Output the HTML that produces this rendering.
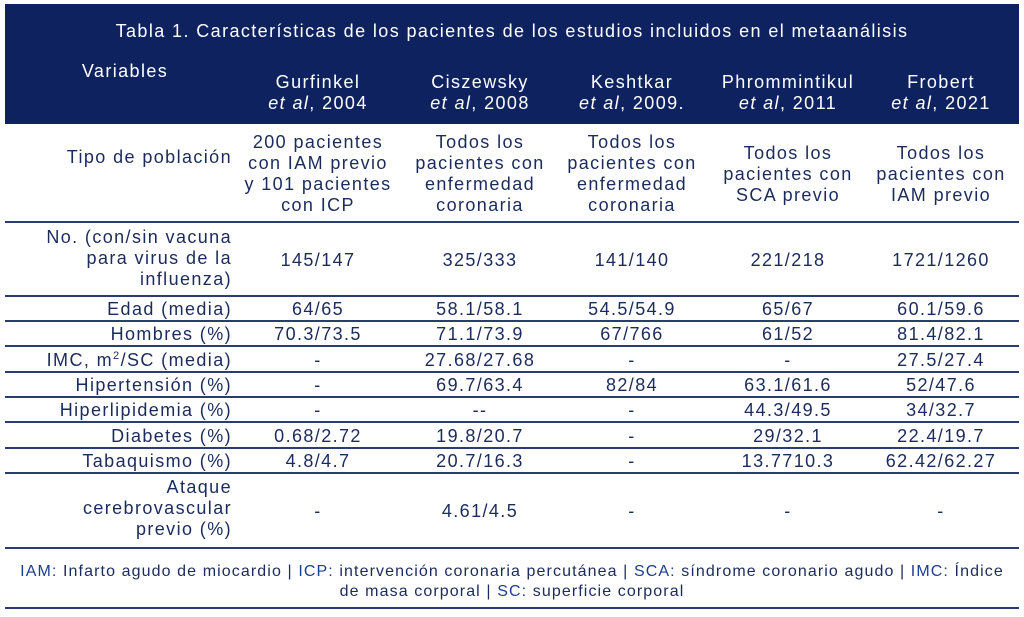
<!DOCTYPE html>
<html><head><meta charset="utf-8"><style>
body{margin:0;width:1024px;height:617px;background:#fff;position:relative;overflow:hidden;font-family:"Liberation Sans",sans-serif;color:#1b2b5c}
.h{position:absolute;left:5px;top:4px;width:1014px;height:120px;background:#0e2260}
.t{position:absolute;text-align:center;font-size:18px;line-height:21px;letter-spacing:1.4px;white-space:nowrap}
.w{color:#fff}
.l{position:absolute;text-align:right;font-size:18px;line-height:21px;letter-spacing:1.4px;right:792px;width:230px;white-space:nowrap}
.ln{position:absolute;left:5px;width:1014px;height:2px;background:#2a3d70}
i{font-style:italic}
</style></head><body>
<div class="h"></div>
<div class="t w" style="left:5px;width:1014px;top:21px">Tabla 1. Características de los pacientes de los estudios incluidos en el metaanálisis</div>
<div class="t w" style="left:40px;width:170px;top:61px">Variables</div>
<div class="t w" style="left:238px;width:160px;top:72px">Gurfinkel<br><i>et al</i>, 2004</div>
<div class="t w" style="left:400px;width:160px;top:72px">Ciszewsky<br><i>et al</i>, 2008</div>
<div class="t w" style="left:552px;width:160px;top:72px">Keshtkar<br><i>et al</i>, 2009.</div>
<div class="t w" style="left:703px;width:170px;top:72px">Phrommintikul<br><i>et al</i>, 2011</div>
<div class="t w" style="left:861px;width:160px;top:72px">Frobert<br><i>et al</i>, 2021</div>

<div class="l" style="top:147px">Tipo de población</div>
<div class="t" style="left:238px;width:160px;top:132px">200 pacientes<br>con IAM previo<br>y 101 pacientes<br>con ICP</div>
<div class="t" style="left:400px;width:160px;top:132px">Todos los<br>pacientes con<br>enfermedad<br>coronaria</div>
<div class="t" style="left:552px;width:160px;top:132px">Todos los<br>pacientes con<br>enfermedad<br>coronaria</div>
<div class="t" style="left:703px;width:170px;top:143px">Todos los<br>pacientes con<br>SCA previo</div>
<div class="t" style="left:861px;width:160px;top:143px">Todos los<br>pacientes con<br>IAM previo</div>
<div class="ln" style="top:221px"></div>

<div class="l" style="top:227px">No. (con/sin vacuna<br>para virus de la<br>influenza)</div>
<div class="t" style="left:238px;width:160px;top:250px">145/147</div>
<div class="t" style="left:400px;width:160px;top:250px">325/333</div>
<div class="t" style="left:552px;width:160px;top:250px">141/140</div>
<div class="t" style="left:703px;width:170px;top:250px">221/218</div>
<div class="t" style="left:861px;width:160px;top:250px">1721/1260</div>
<div class="ln" style="top:295px"></div>

<div class="l" style="top:299px">Edad (media)</div>
<div class="t" style="left:238px;width:160px;top:299px">64/65</div>
<div class="t" style="left:400px;width:160px;top:299px">58.1/58.1</div>
<div class="t" style="left:552px;width:160px;top:299px">54.5/54.9</div>
<div class="t" style="left:703px;width:170px;top:299px">65/67</div>
<div class="t" style="left:861px;width:160px;top:299px">60.1/59.6</div>
<div class="ln" style="top:320px"></div>

<div class="l" style="top:324px">Hombres (%)</div>
<div class="t" style="left:238px;width:160px;top:324px">70.3/73.5</div>
<div class="t" style="left:400px;width:160px;top:324px">71.1/73.9</div>
<div class="t" style="left:552px;width:160px;top:324px">67/766</div>
<div class="t" style="left:703px;width:170px;top:324px">61/52</div>
<div class="t" style="left:861px;width:160px;top:324px">81.4/82.1</div>
<div class="ln" style="top:345px"></div>

<div class="l" style="top:350px">IMC, m<sup style="font-size:11px;line-height:0">2</sup>/SC (media)</div>
<div class="t" style="left:238px;width:160px;top:350px">-</div>
<div class="t" style="left:400px;width:160px;top:350px">27.68/27.68</div>
<div class="t" style="left:552px;width:160px;top:350px">-</div>
<div class="t" style="left:703px;width:170px;top:350px">-</div>
<div class="t" style="left:861px;width:160px;top:350px">27.5/27.4</div>
<div class="ln" style="top:371px"></div>

<div class="l" style="top:375px">Hipertensión (%)</div>
<div class="t" style="left:238px;width:160px;top:375px">-</div>
<div class="t" style="left:400px;width:160px;top:375px">69.7/63.4</div>
<div class="t" style="left:552px;width:160px;top:375px">82/84</div>
<div class="t" style="left:703px;width:170px;top:375px">63.1/61.6</div>
<div class="t" style="left:861px;width:160px;top:375px">52/47.6</div>
<div class="ln" style="top:396px"></div>

<div class="l" style="top:400px">Hiperlipidemia (%)</div>
<div class="t" style="left:238px;width:160px;top:400px">-</div>
<div class="t" style="left:400px;width:160px;top:400px">--</div>
<div class="t" style="left:552px;width:160px;top:400px">-</div>
<div class="t" style="left:703px;width:170px;top:400px">44.3/49.5</div>
<div class="t" style="left:861px;width:160px;top:400px">34/32.7</div>
<div class="ln" style="top:421px"></div>

<div class="l" style="top:426px">Diabetes (%)</div>
<div class="t" style="left:238px;width:160px;top:426px">0.68/2.72</div>
<div class="t" style="left:400px;width:160px;top:426px">19.8/20.7</div>
<div class="t" style="left:552px;width:160px;top:426px">-</div>
<div class="t" style="left:703px;width:170px;top:426px">29/32.1</div>
<div class="t" style="left:861px;width:160px;top:426px">22.4/19.7</div>
<div class="ln" style="top:447px"></div>

<div class="l" style="top:451px">Tabaquismo (%)</div>
<div class="t" style="left:238px;width:160px;top:451px">4.8/4.7</div>
<div class="t" style="left:400px;width:160px;top:451px">20.7/16.3</div>
<div class="t" style="left:552px;width:160px;top:451px">-</div>
<div class="t" style="left:703px;width:170px;top:451px">13.7710.3</div>
<div class="t" style="left:861px;width:160px;top:451px">62.42/62.27</div>
<div class="ln" style="top:472px"></div>

<div class="l" style="top:477px">Ataque<br>cerebrovascular<br>previo (%)</div>
<div class="t" style="left:238px;width:160px;top:501px">-</div>
<div class="t" style="left:400px;width:160px;top:501px">4.61/4.5</div>
<div class="t" style="left:552px;width:160px;top:501px">-</div>
<div class="t" style="left:703px;width:170px;top:501px">-</div>
<div class="t" style="left:861px;width:160px;top:501px">-</div>
<div class="ln" style="top:547px"></div>

<div class="t" style="left:5px;width:1014px;top:562px;font-size:16px;line-height:20px;letter-spacing:1.1px"><span style="color:#1d3d8f">IAM:</span> Infarto agudo de miocardio | <span style="color:#1d3d8f">ICP:</span> intervención coronaria percutánea | <span style="color:#1d3d8f">SCA:</span> síndrome coronario agudo | <span style="color:#1d3d8f">IMC:</span> Índice<br>de masa corporal | <span style="color:#1d3d8f">SC:</span> superficie corporal</div>
<div class="ln" style="top:607px"></div>
</body></html>
